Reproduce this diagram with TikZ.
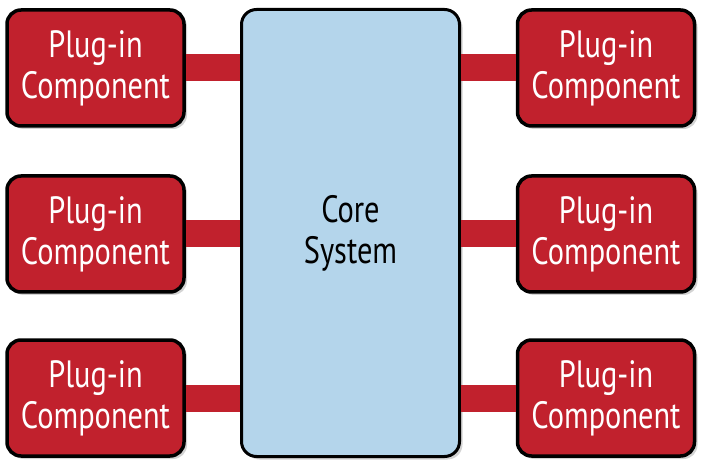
\documentclass[tikz,border=0pt]{standalone}
\usepackage{fontspec}
\newfontfamily\condfont[FakeStretch=0.8]{PT Sans}
\usetikzlibrary{shadows}
\definecolor{plugred}{RGB}{193,33,45}
\definecolor{coreblue}{RGB}{180,213,235}
\tikzset{
  plugin/.style={draw=black, line width=3.5pt, fill=plugred, rounded corners=14pt,
    minimum width=177pt, minimum height=116pt, text=white, align=center,
    font=\condfont\fontsize{38}{41}\selectfont, inner sep=0pt,
    drop shadow={opacity=0.35, shadow xshift=3pt, shadow yshift=-3pt}},
  coresys/.style={draw=black, line width=3pt, fill=coreblue, rounded corners=15pt,
    minimum width=218pt, minimum height=447pt, text=black, align=center,
    font=\condfont\fontsize{38}{41}\selectfont, inner sep=0pt,
    drop shadow={opacity=0.35, shadow xshift=3pt, shadow yshift=-3pt}},
  link/.style={draw=plugred, line width=27pt}
}
\begin{document}
\begin{tikzpicture}[x=1pt,y=-1pt]
\useasboundingbox (0,0) rectangle (702,465);
\node[coresys] (core) at (350.5,233) {Core\\System};
\node[plugin] (l1) at (95.5,68) {Plug-in\\Component};
\node[plugin] (l2) at (95.5,234) {Plug-in\\Component};
\node[plugin] (l3) at (95.5,398) {Plug-in\\Component};
\node[plugin] (r1) at (606,68) {Plug-in\\Component};
\node[plugin] (r2) at (606,234) {Plug-in\\Component};
\node[plugin] (r3) at (606,398) {Plug-in\\Component};
\draw[link] (l1.east) -- (l1.east -| core.west);
\draw[link] (l2.east) -- (l2.east -| core.west);
\draw[link] (l3.east) -- (l3.east -| core.west);
\draw[link] (r1.west) -- (r1.west -| core.east);
\draw[link] (r2.west) -- (r2.west -| core.east);
\draw[link] (r3.west) -- (r3.west -| core.east);
\end{tikzpicture}
\end{document}
